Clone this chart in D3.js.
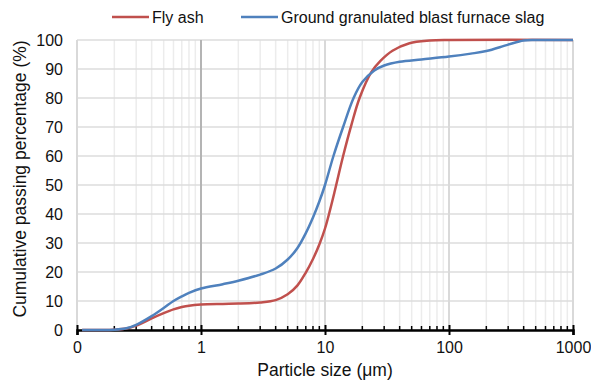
<!DOCTYPE html>
<html>
<head>
<meta charset="utf-8">
<script src="https://cdn.jsdelivr.net/npm/d3@7"></script>
<style>
  body { margin: 0; background: #fff; }
  text { font-family: "Liberation Sans", Arial, sans-serif; fill: #111; }
</style>
</head>
<body>
<div class="container"></div>
<script>
// particle size distributions
const flyAshSize = [0.11, 0.15, 0.2, 0.25, 0.3, 0.4, 0.5, 0.6, 0.7, 0.8, 1, 1.5, 2, 3, 4, 5, 6, 7, 8, 9, 10, 11, 12, 14, 16.4, 19, 23.7, 28, 35, 48, 70, 100, 1000];
const flyAshPct = [0, 0, 0.1, 0.5, 1.5, 4, 5.8, 7.1, 7.9, 8.4, 8.8, 9, 9.1, 9.5, 10.3, 12.3, 15.4, 19.8, 24.5, 29.5, 35, 41.5, 48, 60, 71, 80, 89, 92.8, 96.3, 98.9, 99.8, 100, 100];

const slagSize = [0.11, 0.15, 0.2, 0.25, 0.3, 0.4, 0.5, 0.6, 0.7, 0.8, 1, 1.5, 2, 3, 4, 5, 6, 7, 8, 9, 10, 11.7, 14, 17, 20, 25, 30, 40, 60, 100, 150, 200, 300, 400, 500, 1000];
const slagPct = [0, 0, 0.1, 0.6, 1.8, 4.8, 7.6, 10, 11.6, 12.8, 14.3, 15.8, 17, 19.1, 21.2, 24.3, 28.3, 33.4, 38.8, 44.3, 50, 60, 70, 80, 85.5, 89.5, 91.2, 92.5, 93.3, 94.3, 95.3, 96.2, 98.4, 99.8, 100, 100];

const seriesNames = ["Fly ash", "Ground granulated blast furnace slag"];
const seriesColors = ["#c0504d", "#4f81bd"];
const xTicks = [0.1, 1, 10, 100, 1000];
const yTicks = [0, 10, 20, 30, 40, 50, 60, 70, 80, 90, 100];

const W = 591, H = 383;
const margin = { top: 40, right: 18, bottom: 53, left: 77 };
const width = W - margin.left - margin.right;
const height = H - margin.top - margin.bottom;

const svg = d3.select(".container").append("svg")
  .attr("width", W).attr("height", H);

const g = svg.append("g").attr("transform", `translate(${margin.left}, ${margin.top})`);

const x = d3.scaleLog().domain([0.1, 1000]).range([0, width]);
const y = d3.scaleLinear().domain([0, 100]).range([height, 0]);

// minor vertical grid
const minor = [];
[0.1, 1, 10, 100].forEach((dec) => {
  for (let k = 2; k <= 9; k++) minor.push(dec * k);
});
g.selectAll(".minor").data(minor).enter().append("line")
  .attr("x1", (d) => x(d)).attr("x2", (d) => x(d))
  .attr("y1", 0).attr("y2", height)
  .attr("stroke", "#ececec").attr("stroke-width", 1.5);

// horizontal grid
g.selectAll(".hgrid").data(yTicks).enter().append("line")
  .attr("x1", 0).attr("x2", width)
  .attr("y1", (d) => y(d)).attr("y2", (d) => y(d))
  .attr("stroke", "#dcdcdc").attr("stroke-width", 1.5);

// major vertical grid
g.selectAll(".major").data(xTicks).enter().append("line")
  .attr("x1", (d) => x(d)).attr("x2", (d) => x(d))
  .attr("y1", 0).attr("y2", height)
  .attr("stroke", (d) => (d === 1 ? "#b4b4b4" : "#d9d9d9"))
  .attr("stroke-width", 2);

// y tick labels
g.selectAll(".ylab").data(yTicks).enter().append("text")
  .attr("x", -14).attr("y", (d) => y(d)).attr("dy", "0.36em")
  .attr("text-anchor", "end").style("font-size", "16px")
  .text((d) => d);

// x axis
const xAxis = d3.axisBottom(x).tickValues(xTicks)
  .tickFormat((d) => (d === 0.1 ? "0" : d3.format("d")(d)))
  .tickSize(5).tickPadding(7);
const ax = g.append("g").attr("transform", `translate(0, ${height})`).call(xAxis);
ax.select(".domain").attr("stroke", "#000").attr("stroke-width", 2.5);
ax.selectAll(".tick line").attr("stroke", "#000").attr("stroke-width", 2).attr("y1", -5);
ax.selectAll(".tick text").style("font-size", "16px").style("font-family", "Liberation Sans, Arial, sans-serif").attr("fill", "#111");

g.selectAll(".mtick").data(minor).enter().append("line")
  .attr("x1", (d) => x(d)).attr("x2", (d) => x(d))
  .attr("y1", height - 4).attr("y2", height)
  .attr("stroke", "#000").attr("stroke-width", 1.5);

// lines
const line = d3.line()
  .x((d) => x(d[0])).y((d) => y(d[1]))
  .curve(d3.curveCatmullRom.alpha(0.5));

const series = [
  d3.zip(flyAshSize, flyAshPct),
  d3.zip(slagSize, slagPct),
];
g.selectAll(".series").data(series).enter().append("path")
  .attr("d", line)
  .attr("fill", "none")
  .attr("stroke", (d, i) => seriesColors[i])
  .attr("stroke-width", 2.5);

// axis titles
svg.append("text")
  .attr("x", margin.left + width / 2).attr("y", 376)
  .attr("text-anchor", "middle").style("font-size", "17.5px")
  .text("Particle size (μm)");

svg.append("text")
  .attr("transform", `translate(26, ${margin.top + height / 2 - 6}) rotate(-90)`)
  .attr("text-anchor", "middle").style("font-size", "17.5px")
  .text("Cumulative passing percentage (%)");

// legend
const legendX = [112, 241];
const legend = svg.selectAll(".legend").data(seriesNames).enter().append("g")
  .attr("transform", (d, i) => `translate(${legendX[i]}, 17)`);
legend.append("line")
  .attr("x1", 0).attr("x2", 37)
  .attr("stroke", (d, i) => seriesColors[i]).attr("stroke-width", 2.5);
legend.append("text")
  .attr("x", 40).attr("dy", "0.36em").style("font-size", "16px")
  .text((d) => d);
</script>
</body>
</html>
